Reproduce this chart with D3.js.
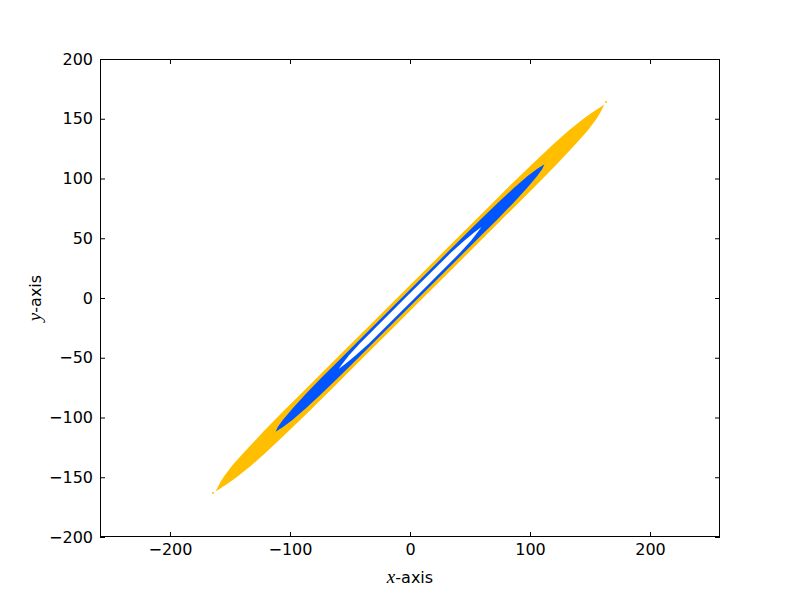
<!DOCTYPE html>
<html>
<head>
<meta charset="utf-8">
<script src="https://cdn.jsdelivr.net/npm/d3@7"></script>
<style>
  body { margin: 0; background: #fff; }
  svg { display: block; }
  .tick text { font-family: "DejaVu Sans", sans-serif; font-size: 16px; fill: #000; }
</style>
</head>
<body>
<svg width="800" height="597"></svg>
<script>
// along-diagonal position (y) and horizontal half-width
const orangeS  = [162, 159, 155, 150, 140, 128, 112, 95, 75, 50, 25, 0, -25, -50, -75, -95, -112, -128, -140, -150, -155, -159, -162];
const orangeHW = [0, 1.5, 3.5, 5.5, 8, 9.3, 10.3, 10.8, 10.8, 10.8, 10.8, 10.8, 10.8, 10.8, 10.8, 10.8, 10.3, 9.3, 8, 5.5, 3.5, 1.5, 0];

const blueS  = [112, 108, 102, 92, 80, 66, 55, 30, 0, -30, -55, -66, -80, -92, -102, -108, -112];
const blueHW = [0, 2.2, 4, 5.5, 6.5, 7, 7, 7, 7, 7, 7, 7, 6.5, 5.5, 4, 2.2, 0];

const holeS  = [59.5, 55, 48, 38, 0, -38, -48, -55, -59.5];
const holeHW = [0, 1.3, 2.8, 3.8, 4, 3.8, 2.8, 1.3, 0];

// a couple of stray points near the tips
const strayX = [163.3, -164.2];
const strayY = [164.0, -163.2];

const xTicks = [-200, -100, 0, 100, 200];
const yTicks = [-200, -150, -100, -50, 0, 50, 100, 150, 200];

const svg = d3.select('svg');
const m = { left: 100, right: 720, top: 59, bottom: 537 };

const x = d3.scaleLinear().domain([-258.3, 258.3]).range([m.left, m.right]);
const y = d3.scaleLinear().domain([-200, 200]).range([m.bottom, m.top]);

// band outline: left edge top->bottom, then right edge bottom->top
function outline(s, hw) {
  let pts = s.map((v, i) => [v - hw[i], v]);
  for (let i = s.length - 1; i >= 0; i--) pts.push([s[i] + hw[i], s[i]]);
  return pts;
}

const line = d3.line().x(d => x(d[0])).y(d => y(d[1]));

const g = svg.append('g');
g.append('path').attr('d', line(outline(orangeS, orangeHW)) + 'Z').attr('fill', '#ffbf00');
g.append('path').attr('d', line(outline(blueS, blueHW)) + 'Z').attr('fill', '#0055ff');
g.append('path').attr('d', line(outline(holeS, holeHW)) + 'Z').attr('fill', '#fff');
g.selectAll('circle.stray').data(strayX).enter().append('circle')
  .attr('cx', d => x(d)).attr('cy', (d, i) => y(strayY[i])).attr('r', 1)
  .attr('fill', '#ffbf00');

const fmt = d => d < 0 ? '\u2212' + Math.abs(d) : '' + d;

svg.append('g').attr('transform', `translate(0,${m.bottom})`)
  .call(d3.axisBottom(x).tickValues(xTicks).tickFormat(fmt).tickSizeInner(-5).tickSizeOuter(0).tickPadding(7));
svg.append('g').attr('transform', `translate(0,${m.top})`)
  .call(d3.axisTop(x).tickValues(xTicks).tickFormat('').tickSizeInner(-5).tickSizeOuter(0));
svg.append('g').attr('transform', `translate(${m.left},0)`)
  .call(d3.axisLeft(y).tickValues(yTicks).tickFormat(fmt).tickSizeInner(-5).tickSizeOuter(0).tickPadding(7));
svg.append('g').attr('transform', `translate(${m.right},0)`)
  .call(d3.axisRight(y).tickValues(yTicks).tickFormat('').tickSizeInner(-5).tickSizeOuter(0));

svg.selectAll('.domain').remove();
svg.selectAll('.tick line').attr('stroke', '#000');

svg.append('rect').attr('x', m.left + 0.5).attr('y', m.top + 0.5)
  .attr('width', m.right - m.left - 1).attr('height', m.bottom - m.top - 1)
  .attr('fill', 'none').attr('stroke', '#000').attr('stroke-width', 1);

const xl = svg.append('text').attr('x', (m.left + m.right) / 2).attr('y', 583)
  .attr('text-anchor', 'middle').attr('font-family', 'DejaVu Sans').attr('font-size', 16);
xl.append('tspan').attr('font-family', 'Liberation Serif').attr('font-style', 'italic').attr('font-size', 19).text('x');
xl.append('tspan').text('-axis');

const yl = svg.append('text').attr('transform', `translate(41,${(m.top + m.bottom) / 2}) rotate(-90)`)
  .attr('text-anchor', 'middle').attr('font-family', 'DejaVu Sans').attr('font-size', 16);
yl.append('tspan').attr('font-family', 'Liberation Serif').attr('font-style', 'italic').attr('font-size', 19).text('y');
yl.append('tspan').text('-axis');
</script>
</body>
</html>
